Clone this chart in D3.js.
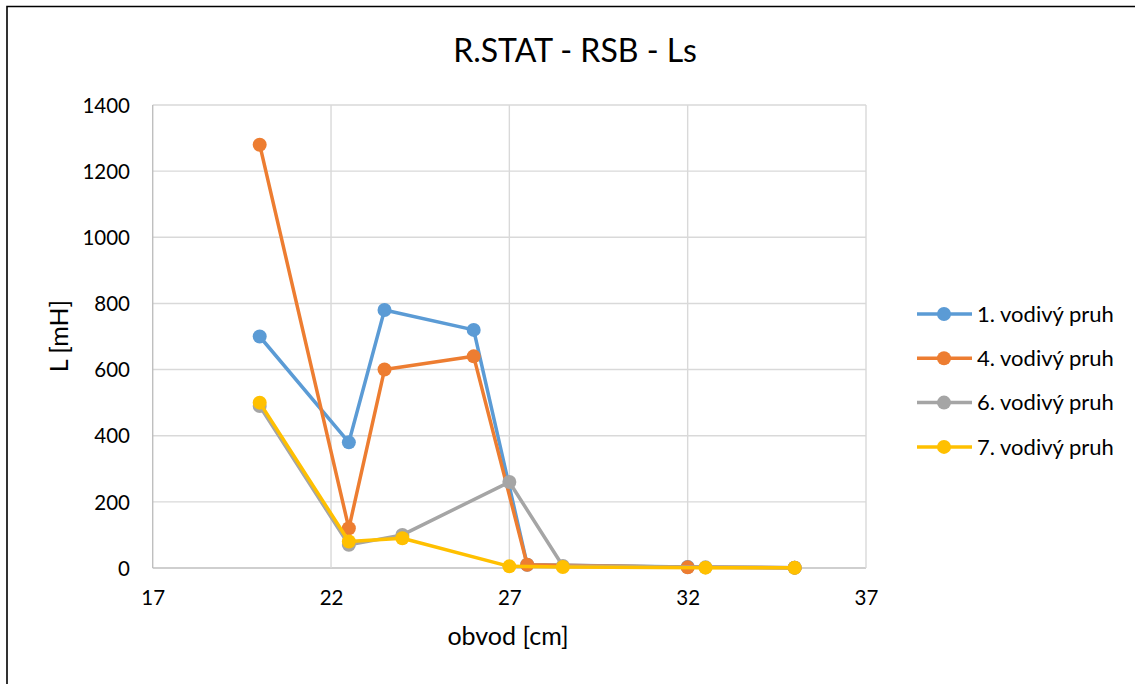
<!DOCTYPE html>
<html>
<head>
<meta charset="utf-8">
<script src="https://cdn.jsdelivr.net/npm/d3@7"></script>
<style>
  html, body { margin: 0; padding: 0; background: #fff; }
  svg { display: block; font-family: Lato, "Open Sans", sans-serif; }
</style>
</head>
<body>
<svg id="chart" width="1135" height="684"></svg>
<script>
// Inductance Ls versus circumference for four conductive strips
const seriesNames = ["1. vodivý pruh", "4. vodivý pruh", "6. vodivý pruh", "7. vodivý pruh"];
const seriesColors = ["#5B9BD5", "#ED7D31", "#A5A5A5", "#FFC000"];

const xStrip1 = [20, 22.5, 23.5, 26, 27.5, 32, 35];
const yStrip1 = [700, 380, 780, 720, 10, 3, 1];

const xStrip4 = [20, 22.5, 23.5, 26, 27.5, 32, 35];
const yStrip4 = [1280, 120, 600, 640, 10, 2, 1];

const xStrip6 = [20, 22.5, 24, 27, 28.5, 32.5, 35];
const yStrip6 = [490, 70, 100, 260, 6, 2, 1];

const xStrip7 = [20, 22.5, 24, 27, 28.5, 32.5, 35];
const yStrip7 = [500, 80, 90, 5, 3, 1, 0.5];

const xTicks = [17, 22, 27, 32, 37];
const yTicks = [0, 200, 400, 600, 800, 1000, 1200, 1400];

const titleText = "R.STAT - RSB - Ls";
const xTitle = "obvod [cm]";
const yTitle = "L [mH]";

const series = [
  { name: seriesNames[0], color: seriesColors[0], xs: xStrip1, ys: yStrip1 },
  { name: seriesNames[1], color: seriesColors[1], xs: xStrip4, ys: yStrip4 },
  { name: seriesNames[2], color: seriesColors[2], xs: xStrip6, ys: yStrip6 },
  { name: seriesNames[3], color: seriesColors[3], xs: xStrip7, ys: yStrip7 }
].map(s => ({ ...s, points: s.xs.map((x, i) => ({ x, y: s.ys[i] })) }));

const svg = d3.select("#chart");

// outer frame (top and left edges only visible)
svg.append("path")
  .attr("d", "M7,684 L7,6.5 L1135,6.5")
  .attr("fill", "none")
  .attr("stroke", "#000")
  .attr("stroke-width", 1.6);

const plot = { left: 152.7, right: 866, top: 105, bottom: 568 };

const x = d3.scaleLinear().domain([17, 37]).range([plot.left, plot.right]);
const y = d3.scaleLinear().domain([0, 1400]).range([plot.bottom, plot.top]);

// gridlines
const grid = svg.append("g");
grid.selectAll("line.h").data(yTicks).join("line")
  .attr("x1", plot.left).attr("x2", plot.right)
  .attr("y1", d => y(d)).attr("y2", d => y(d))
  .attr("stroke", d => d === 0 ? "#BFBFBF" : "#D9D9D9")
  .attr("stroke-width", 1.4);
grid.selectAll("line.v").data(xTicks).join("line")
  .attr("y1", plot.top).attr("y2", plot.bottom)
  .attr("x1", d => x(d)).attr("x2", d => x(d))
  .attr("stroke", d => d === 17 ? "#BFBFBF" : "#D9D9D9")
  .attr("stroke-width", 1.4);

// axes (labels only)
const yAxis = d3.axisLeft(y).tickValues(yTicks).tickSize(0).tickPadding(0).tickFormat(d3.format("d"));
const xAxis = d3.axisBottom(x).tickValues(xTicks).tickSize(0).tickPadding(0).tickFormat(d3.format("d"));

const gy = svg.append("g").attr("transform", "translate(130,0)").call(yAxis);
gy.select(".domain").remove();
gy.selectAll("text").attr("font-size", 20.5).attr("fill", "#000").attr("font-family", "Lato").attr("dy", "0.35em").attr("x", 0);

const gx = svg.append("g").attr("transform", "translate(0,590)").call(xAxis);
gx.select(".domain").remove();
gx.selectAll("text").attr("font-size", 20.5).attr("fill", "#000").attr("font-family", "Lato").attr("dy", "0.71em").attr("y", 0);

// series: line then markers, drawn in order
const line = d3.line().x(d => x(d.x)).y(d => y(d.y));
series.forEach(s => {
  const g = svg.append("g");
  g.append("path")
    .datum(s.points)
    .attr("d", line)
    .attr("fill", "none")
    .attr("stroke", s.color)
    .attr("stroke-width", 3.5)
    .attr("stroke-linejoin", "round")
    .attr("stroke-linecap", "round");
  g.selectAll("circle").data(s.points).join("circle")
    .attr("cx", d => x(d.x))
    .attr("cy", d => y(d.y))
    .attr("r", 7)
    .attr("fill", s.color);
});

// title
svg.append("text")
  .attr("x", 575).attr("y", 62)
  .attr("text-anchor", "middle")
  .attr("font-size", 32)
  .attr("fill", "#000")
  .text(titleText);

// axis titles
svg.append("text")
  .attr("x", 508).attr("y", 645)
  .attr("text-anchor", "middle")
  .attr("font-size", 25)
  .attr("fill", "#000")
  .text(xTitle);

svg.append("text")
  .attr("transform", "translate(68,336) rotate(-90)")
  .attr("text-anchor", "middle")
  .attr("font-size", 25)
  .attr("fill", "#000")
  .text(yTitle);

// legend
const legend = svg.append("g").attr("transform", "translate(917,314)");
const rows = legend.selectAll("g").data(series).join("g")
  .attr("transform", (d, i) => `translate(0,${i * 44.3})`);
rows.append("line")
  .attr("x1", 0).attr("x2", 55).attr("y1", 0).attr("y2", 0)
  .attr("stroke", d => d.color).attr("stroke-width", 3.5);
rows.append("circle")
  .attr("cx", 27).attr("cy", 0).attr("r", 7)
  .attr("fill", d => d.color);
rows.append("text")
  .attr("x", 60).attr("y", 0).attr("dy", "0.35em")
  .attr("font-size", 22)
  .attr("fill", "#000")
  .text(d => d.name);
</script>
</body>
</html>
